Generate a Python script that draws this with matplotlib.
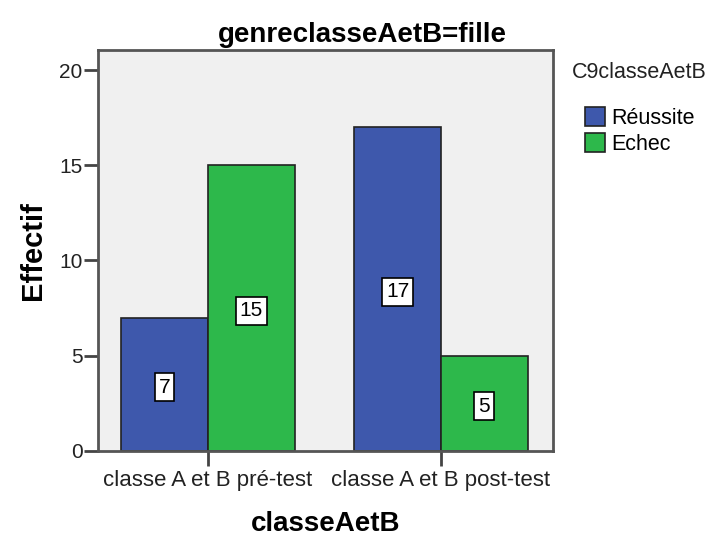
import matplotlib
matplotlib.use('Agg')
import matplotlib.pyplot as plt
import numpy as np

plt.rcParams['font.family'] = ['Liberation Sans', 'DejaVu Sans']

categories = ['classe A et B pré-test', 'classe A et B post-test']
groups = ['Réussite', 'Echec']
reussite = [7, 17]
echec = [15, 5]
colors = ['#3E58AC', '#2DB84B']

fig = plt.figure(figsize=(7.1, 5.38), dpi=100)
ax = fig.add_axes([0.138, 0.162, 0.641, 0.745])
ax.set_facecolor('#F0F0F0')

x = np.arange(len(categories))
w = 0.373
for vals, off, c, g in [(reussite, -w/2, colors[0], groups[0]), (echec, w/2, colors[1], groups[1])]:
    bars = ax.bar(x + off, vals, width=w, color=c, edgecolor='#222222', linewidth=1.2, label=g)
    for b, v in zip(bars, vals):
        ax.text(b.get_x() + b.get_width()/2, v/2 - 0.15, str(v), ha='center', va='center', fontsize=15,
                bbox=dict(boxstyle='square,pad=0.2', fc='white', ec='black', lw=1.2))

ax.set_xlim(-0.472, 1.481)
ax.set_ylim(0, 21.05)
ax.set_yticks([0, 5, 10, 15, 20])
ax.set_xticks(x)
ax.set_xticklabels(categories, fontsize=16, color='#222222')
ax.tick_params(axis='y', labelsize=15, length=10, width=2, pad=1, color='#444444', labelcolor='#222222')
ax.tick_params(axis='x', length=11, width=2, pad=3, color='#444444')
for s in ax.spines.values():
    s.set_linewidth(2)
    s.set_color('#555555')

# title is centred a bit right of the axes in the original
fig.text(362/710, 1 - 35/538, 'genreclasseAetB=fille', fontsize=20, fontweight='bold',
         ha='center', va='center')
ax.set_ylabel('Effectif', fontsize=21, fontweight='bold', labelpad=9)
ax.set_xlabel('classeAetB', fontsize=20, fontweight='bold', labelpad=14)

fig.text(572/710, 1 - 72/538, 'C9classeAetB', fontsize=15.5, ha='left', va='center', color='#222222')
leg = ax.legend(loc='upper left', bbox_to_anchor=(585/710, 1 - 107/538),
                bbox_transform=fig.transFigure, frameon=False, fontsize=15.5,
                handlelength=0.95, handleheight=0.95, handletextpad=0.25,
                borderaxespad=0, borderpad=0, labelspacing=0.2)

fig.savefig('out.png', dpi=100)
